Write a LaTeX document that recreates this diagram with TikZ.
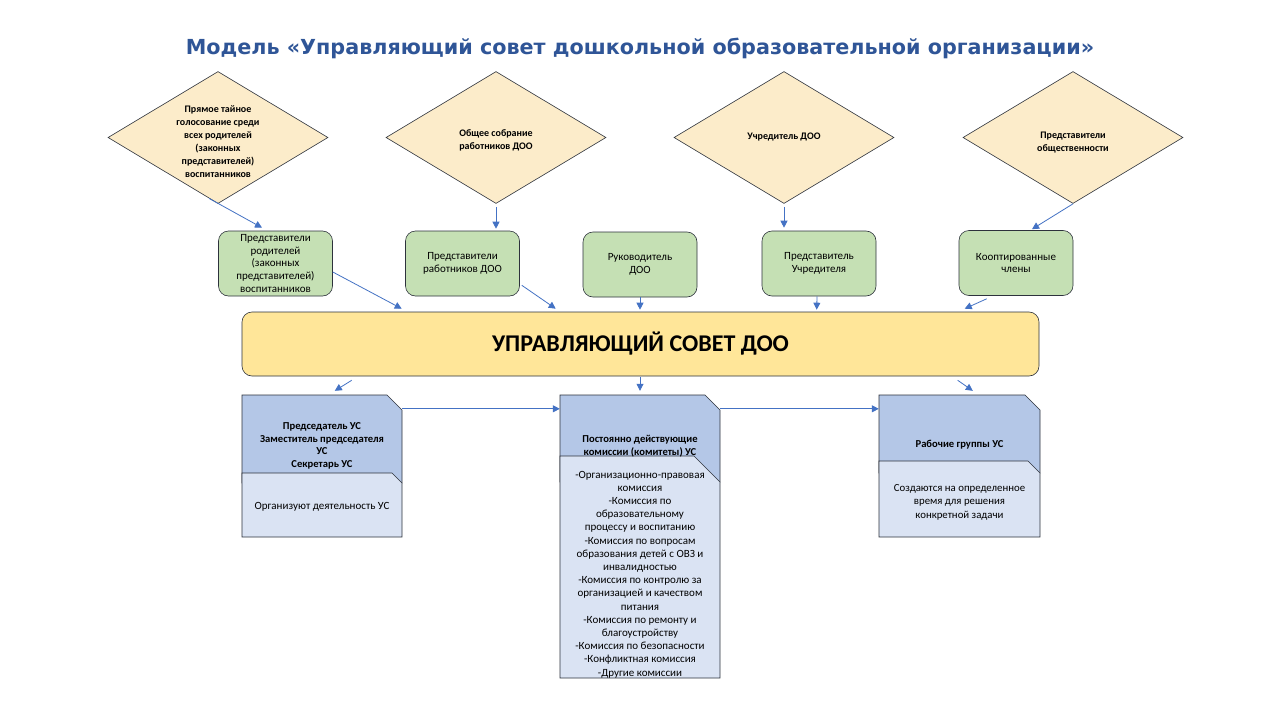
\documentclass[tikz,border=0pt]{standalone}
\usepackage{fontspec}
\setmainfont{Carlito}
\newfontfamily\titlefont{DejaVu Sans}
\usetikzlibrary{arrows.meta,shapes.geometric,calc}
\definecolor{dfill}{RGB}{252,236,202}
\definecolor{gfill}{HTML}{C5E0B4}
\definecolor{bfill}{HTML}{FFE699}
\definecolor{cup}{HTML}{B4C7E7}
\definecolor{clow}{HTML}{DAE3F3}
\definecolor{edge}{RGB}{45,50,60}
\definecolor{arr}{HTML}{4472C4}
\definecolor{ttl}{HTML}{2F5597}
\begin{document}
\begin{tikzpicture}[x=1pt,y=-1pt,
  dia/.style={diamond, draw=edge, fill=dfill, line width=0.6pt, minimum width=220pt, minimum height=132pt, inner sep=0pt},
  dtxt/.style={align=center, font=\fontsize{10}{13}\selectfont\bfseries, inner sep=0pt},
  grn/.style={draw=edge, fill=gfill, rounded corners=10pt, minimum width=114pt, minimum height=65pt, line width=0.6pt, align=center, font=\fontsize{11}{12.7}\selectfont, inner sep=0pt},
  ban/.style={draw=edge, fill=bfill, rounded corners=10pt, minimum width=797pt, minimum height=64pt, line width=0.6pt, font=\fontsize{24}{28}\selectfont\bfseries, inner sep=0pt},
  hdr/.style={align=center, font=\fontsize{10.6}{12.7}\selectfont\bfseries, inner sep=0pt},
  body/.style={align=center, font=\fontsize{11}{13.2}\selectfont, inner sep=0pt},
  cardbox/.style={draw=none, inner sep=0pt},
  cardline/.style={draw=edge, line width=0.6pt},
  ar/.style={draw=arr, line width=0.8pt, -{Triangle[length=7pt,width=7pt]}}
]
\useasboundingbox (0,0) rectangle (1280,720);
\fill[white] (0,0) rectangle (1280,720);

% title
\node[font=\titlefont\bfseries\fontsize{20.7}{24}\selectfont, text=ttl, inner sep=0pt] (title) at (640,48.5)
  {Модель «Управляющий совет дошкольной образовательной организации»};

% diamonds
\node[dia] (d1) at (218,137.5) {};
\node[dia] (d2) at (496,137.5) {};
\node[dia] (d3) at (784,137.5) {};
\node[dia] (d4) at (1073,137.5) {};
\node[dtxt] (t1) at (218,142) {Прямое тайное\\голосование среди\\всех родителей\\(законных\\представителей)\\воспитанников};
\node[dtxt] (t2) at (496,140) {Общее собрание\\работников ДОО};
\node[dtxt] (t3) at (784,137) {Учредитель ДОО};
\node[dtxt] (t4) at (1073,143) {Представители\\общественности};

% green boxes
\node[grn] (g1) at (275.5,263.5) {Представители\\родителей\\(законных\\представителей)\\воспитанников};
\node[grn] (g2) at (462.5,263.5) {Представители\\работников ДОО};
\node[grn] (g3) at (640,264.5) {Руководитель\\ДОО};
\node[grn] (g4) at (819,263.5) {Представитель\\Учредителя};
\node[grn] (g5) at (1016,263) {Кооптированные\\члены};

% banner
\node[ban] (ban) at (640.5,344) {УПРАВЛЯЮЩИЙ СОВЕТ ДОО};

% cards (shapes)
\filldraw[cardline, fill=cup] (242,395) -- (387,395) -- (402,410) -- (402,483) -- (242,483) -- cycle;
\filldraw[cardline, fill=clow] (242,473) -- (392,473) -- (402,483) -- (402,537) -- (242,537) -- cycle;
\filldraw[cardline, fill=cup] (560,395) -- (705,395) -- (720,410) -- (720,482) -- (560,482) -- cycle;
\filldraw[cardline, fill=clow] (560,456) -- (694,456) -- (720,482) -- (720,678) -- (560,678) -- cycle;
\filldraw[cardline, fill=cup] (879,395) -- (1025,395) -- (1040,410) -- (1040,473) -- (879,473) -- cycle;
\filldraw[cardline, fill=clow] (879,461) -- (1028,461) -- (1040,473) -- (1040,537) -- (879,537) -- cycle;
\node[cardbox, minimum width=160pt, minimum height=142pt] (c1) at (322,466) {};
\node[cardbox, minimum width=160pt, minimum height=283pt] (c2) at (640,536.5) {};
\node[cardbox, minimum width=161pt, minimum height=142pt] (c3) at (959.5,466) {};

\node[hdr] (h1) at (322,446) {Председатель УС\\Заместитель председателя\\УС\\Секретарь УС};
\node[body] (b1) at (322,507) {Организуют деятельность УС};
\node[hdr] (h2) at (640,446) {Постоянно действующие\\комиссии (комитеты) УС};
\node[body] (b2) at (640,574.5) {-Организационно-правовая\\комиссия\\-Комиссия по\\образовательному\\процессу и воспитанию\\-Комиссия по вопросам\\образования детей с ОВЗ и\\инвалидностью\\-Комиссия по контролю за\\организацией и качеством\\питания\\-Комиссия по ремонту и\\благоустройству\\-Комиссия по безопасности\\-Конфликтная комиссия\\-Другие комиссии};
\node[hdr] (h3) at (959.5,445) {Рабочие группы УС};
\node[body, font=\fontsize{10.8}{13.5}\selectfont] (b3) at (959.5,502) {Создаются на определенное\\время для решения\\конкретной задачи};

% connectors
\draw[ar] ($(d1.south)!0.08!(d1.west)$) -- ($(g1.north)+(-13.5,-3)$);
\draw[ar] ($(g1.east)+(0,8.5)$) -- ($(ban.north west)+(160,-3)$);
\draw[ar] ($(d2.south)+(0,3)$) -- ($(g2.north)+(33.5,-2)$);
\draw[ar] ($(g2.south east)+(2,-11)$) -- ($(ban.north west)+(314,-3)$);
\draw[ar] (g3.south) -- ($(ban.north)+(-0.5,-2)$);
\draw[ar] ($(d3.south)+(0,3)$) -- ($(g4.north)+(-35,-3)$);
\draw[ar] ($(g4.south)+(-2,0)$) -- ($(ban.north west)+(575,-2)$);
\draw[ar] (d4.south) -- ($(g5.north)+(16,-1)$);
\draw[ar] ($(g5.south west)+(28,3)$) -- ($(ban.north west)+(723,-3)$);
\draw[ar] ($(ban.south west)+(110,4)$) -- ($(c1.north west)+(93,-4)$);
\draw[ar] ($(ban.south)+(-0.5,1)$) -- ($(c2.north)+(0,-4)$);
\draw[ar] ($(ban.south west)+(716,4)$) -- ($(c3.north west)+(94,-4)$);
\draw[ar] ($(c1.north east)+(0,14)$) -- ($(c2.north west)+(0,14)$);
\draw[ar] ($(c2.north east)+(0,14)$) -- ($(c3.north west)+(0,14)$);
\end{tikzpicture}
\end{document}
